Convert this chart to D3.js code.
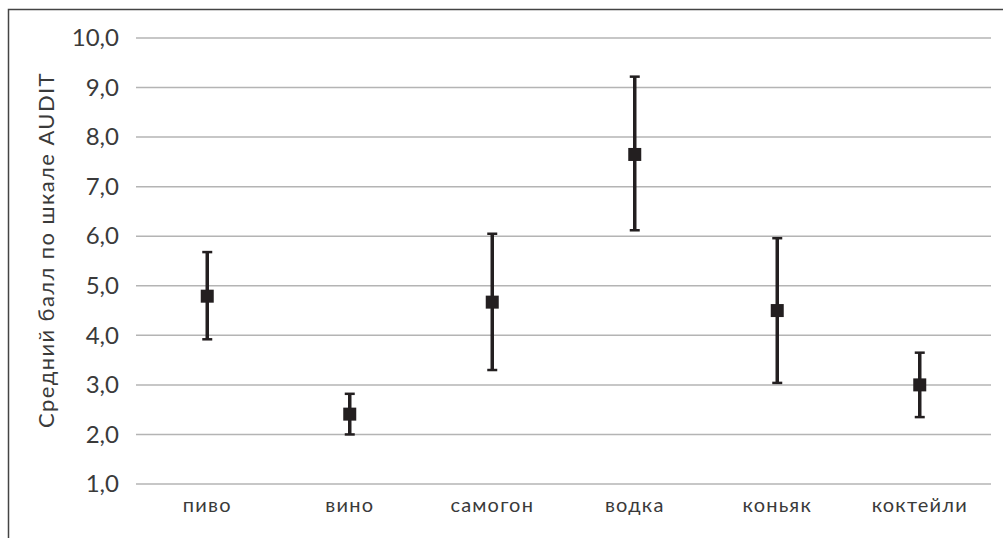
<!DOCTYPE html>
<html>
<head>
<meta charset="utf-8">
<script src="https://cdn.jsdelivr.net/npm/d3@7"></script>
<style>
  body { margin: 0; background: #fff; }
  text { font-family: "Lato", "Open Sans", sans-serif; fill: #3a3a3a; }
</style>
</head>
<body>
<script>
var width = 1003, height = 538;

// data
var categories = ["пиво", "вино", "самогон", "водка", "коньяк", "коктейли"];
var means = [4.79, 2.41, 4.67, 7.65, 4.5, 3.0];
var upper = [5.68, 2.82, 6.05, 9.22, 5.96, 3.65];
var lower = [3.92, 2.0, 3.3, 6.12, 3.04, 2.35];
var yTicks = [1, 2, 3, 4, 5, 6, 7, 8, 9, 10];

var margin = {top: 38, right: 12, bottom: 54, left: 136};

var svg = d3.select("body").append("svg")
    .attr("width", width)
    .attr("height", height);

// outer frame (runs off the right and bottom edges)
svg.append("rect")
    .attr("x", 8.5).attr("y", 9.5)
    .attr("width", width + 10).attr("height", height + 10)
    .attr("fill", "none")
    .style("stroke", "#444")
    .style("stroke-width", 1.5);

var x = d3.scaleBand()
    .domain(categories)
    .range([margin.left, width - margin.right]);

var y = d3.scaleLinear()
    .domain([1, 10])
    .range([height - margin.bottom, margin.top]);

// gridlines
svg.append("g")
  .selectAll("line")
  .data(yTicks)
  .enter().append("line")
    .attr("x1", margin.left)
    .attr("x2", width - margin.right)
    .attr("y1", function(d) { return y(d); })
    .attr("y2", function(d) { return y(d); })
    .style("stroke", "#b4b4b4")
    .style("stroke-width", 1.5);

// y labels
var yAxis = svg.append("g")
    .attr("transform", "translate(" + (margin.left - 17) + ",0)")
    .call(d3.axisLeft(y).tickValues(yTicks).tickSize(0)
      .tickFormat(function(d) { return d3.format(".1f")(d).replace(".", ","); }));
yAxis.select(".domain").remove();
yAxis.selectAll("text")
    .attr("x", 0)
    .style("font-size", "24px")
    .style("font-family", "Lato, sans-serif")
    .style("fill", "#3a3a3a");

// x labels
var xAxis = svg.append("g")
    .attr("transform", "translate(0," + (height - margin.bottom) + ")")
    .call(d3.axisBottom(x).tickSize(0).tickPadding(14));
xAxis.select(".domain").remove();
xAxis.selectAll("text")
    .style("font-size", "20px")
    .style("letter-spacing", "1.2px")
    .style("font-family", "Lato, sans-serif")
    .style("fill", "#3a3a3a");

// axis title
svg.append("text")
    .attr("transform", "translate(54,250) rotate(-90)")
    .attr("text-anchor", "middle")
    .style("font-size", "22px")
    .style("letter-spacing", "1.4px")
    .text("Средний балл по шкале AUDIT");

var rows = categories.map(function(c, i) {
  return {cat: c, mean: means[i], hi: upper[i], lo: lower[i]};
});
function cx(d) { return x(d.cat) + x.bandwidth() / 2; }

var g = svg.append("g");
// whiskers
g.selectAll(".stem").data(rows).enter().append("line")
    .attr("x1", cx).attr("x2", cx)
    .attr("y1", function(d) { return y(d.hi); })
    .attr("y2", function(d) { return y(d.lo); })
    .style("stroke", "#231f20").style("stroke-width", 3.5);
g.selectAll(".cap").data(rows.concat(rows)).enter().append("line")
    .attr("x1", function(d) { return cx(d) - 5; })
    .attr("x2", function(d) { return cx(d) + 5; })
    .attr("y1", function(d, i) { return i < rows.length ? y(d.hi) : y(d.lo); })
    .attr("y2", function(d, i) { return i < rows.length ? y(d.hi) : y(d.lo); })
    .style("stroke", "#231f20").style("stroke-width", 2.5);
// markers
g.selectAll(".dot").data(rows).enter().append("rect")
    .attr("x", function(d) { return cx(d) - 6.5; })
    .attr("y", function(d) { return y(d.mean) - 6.5; })
    .attr("width", 13).attr("height", 13)
    .attr("fill", "#231f20");
</script>
</body>
</html>
